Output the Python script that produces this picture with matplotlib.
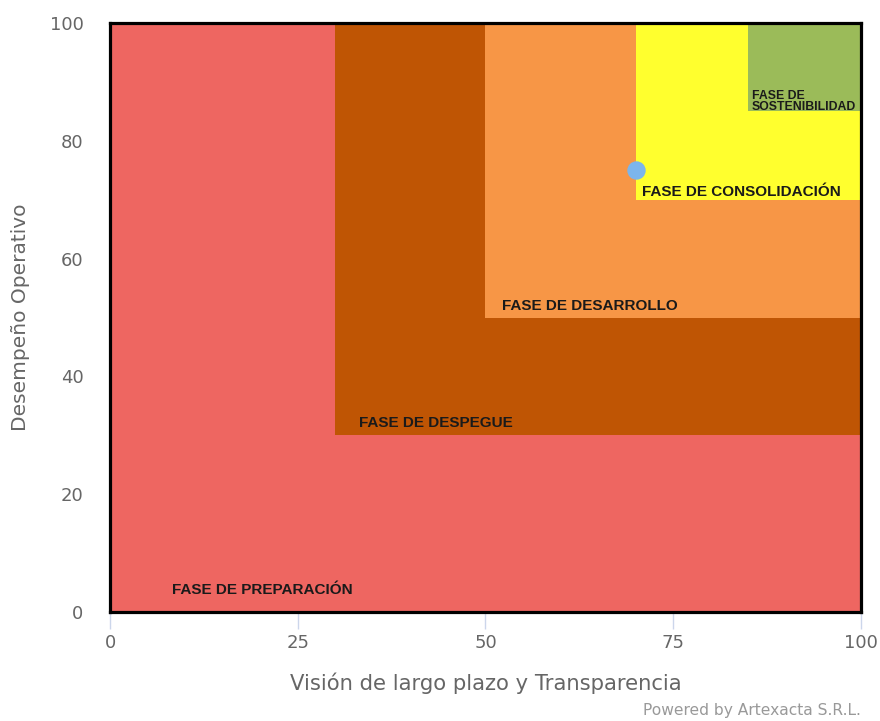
import matplotlib.pyplot as plt
from matplotlib.patches import Rectangle

# fases: nombre, inicio (x e y) y color
fases = ['FASE DE PREPARACIÓN', 'FASE DE DESPEGUE', 'FASE DE DESARROLLO',
         'FASE DE CONSOLIDACIÓN', 'FASE DE\nSOSTENIBILIDAD']
fase_inicio = [0, 30, 50, 70, 85]
fase_colores = ['#EE6661', '#BF5504', '#F79646', '#FFFF2E', '#9BBB59']
# posicion de las etiquetas (datos)
etiqueta_x = [8.2, 33.2, 52.2, 70.9, 85.5]
etiqueta_y = [3.7, 32.1, 52.0, 71.4, 86.7]
etiqueta_tam = [11, 11, 11, 11, 8.8]

# punto evaluado
punto_x = [70]
punto_y = [75]

x_ticks = [0, 25, 50, 75, 100]
y_ticks = [0, 20, 40, 60, 80, 100]

fig = plt.figure(figsize=(8.8, 7.21), dpi=100)
ax = fig.add_axes([0.125, 0.1512, 0.8534, 0.8168])

for ini, col in zip(fase_inicio, fase_colores):
    ax.add_patch(Rectangle((ini, ini), 100 - ini, 100 - ini, facecolor=col,
                           edgecolor='none', zorder=1))

for txt, x, y, s in zip(fases, etiqueta_x, etiqueta_y, etiqueta_tam):
    ax.text(x, y, txt, fontsize=s, fontweight='bold', color='#1a1a1a',
            family='Liberation Sans', va='center', ha='left',
            linespacing=0.85, zorder=3)

ax.scatter(punto_x, punto_y, s=150, color='#7CB5EC', zorder=4, clip_on=False)

ax.set_xlim(0, 100)
ax.set_ylim(0, 100)
ax.set_xticks(x_ticks)
ax.set_yticks(y_ticks)

for sp in ax.spines.values():
    sp.set_color('black')
    sp.set_linewidth(2.3)
    sp.set_zorder(5)

ax.tick_params(axis='x', length=12.5, width=1, color='#ccd6eb', labelsize=13,
               labelcolor='#666666', pad=3)
ax.tick_params(axis='y', length=0, labelsize=13, labelcolor='#666666', pad=19)

ax.set_xlabel('Visión de largo plazo y Transparencia', fontsize=15.2,
              color='#666666', labelpad=15)
ax.set_ylabel('Desempeño Operativo', fontsize=14.5, color='#666666', labelpad=14)

fig.text(0.978, 0.004, 'Powered by Artexacta S.R.L.', fontsize=11.2,
         color='#999999', ha='right', va='bottom')

fig.savefig('out.png', dpi=100)
